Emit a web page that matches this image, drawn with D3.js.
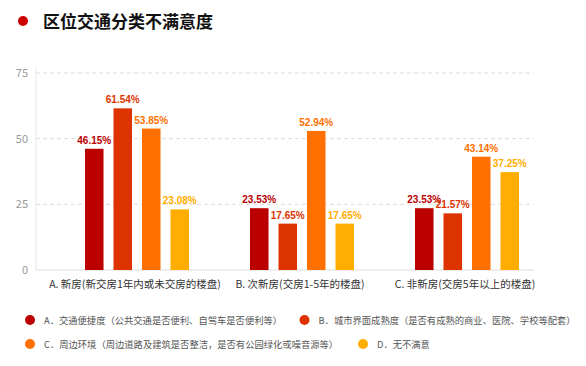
<!DOCTYPE html>
<html>
<head>
<meta charset="utf-8">
<script src="https://cdn.jsdelivr.net/npm/d3@7"></script>
<style>
  body { margin: 0; background: #fff; }
  svg { display: block; font-family: "Microsoft YaHei", "Noto Sans CJK SC", sans-serif; }
</style>
</head>
<body>
<svg width="586" height="366"></svg>
<script>
// Data
const categories = ['A. 新房(新交房1年内或未交房的楼盘)', 'B. 次新房(交房1-5年的楼盘)', 'C. 非新房(交房5年以上的楼盘)']
const seriesNames = [
  'A．交通便捷度（公共交通是否便利、自驾车是否便利等）',
  'B．城市界面成熟度（是否有成熟的商业、医院、学校等配套）',
  'C．周边环境（周边道路及建筑是否整洁，是否有公园绿化或噪音源等）',
  'D．无不满意'
]
const seriesA = [46.15, 23.53, 23.53]
const seriesB = [61.54, 17.65, 21.57]
const seriesC = [53.85, 52.94, 43.14]
const seriesD = [23.08, 17.65, 37.25]
const yTicks = [0, 25, 50, 75]
const colors = ['#bb0000', '#dd3300', '#ff7000', '#ffad00']

const series = [seriesA, seriesB, seriesC, seriesD]
const svg = d3.select('svg')

// Title
svg.append('circle').attr('cx', 23).attr('cy', 21).attr('r', 5).attr('fill', '#cc0000')
svg.append('text')
  .attr('x', 43).attr('y', 27.5)
  .attr('font-size', 17).attr('font-weight', 'bold').attr('fill', '#111')
  .text('区位交通分类不满意度')

// Scales
const plotLeft = 36, plotRight = 534
const y = d3.scaleLinear().domain([0, 75]).range([270, 73])
const x = d3.scaleBand().domain(categories).range([54.5, 549.5])
const xs = d3.scaleBand().domain(d3.range(4)).range([-52, 52]).paddingInner(0.35)

// Grid lines
svg.append('g')
  .selectAll('line')
  .data(yTicks.filter(d => d > 0))
  .join('line')
  .attr('x1', plotLeft).attr('x2', plotRight)
  .attr('y1', d => y(d)).attr('y2', d => y(d))
  .attr('stroke', '#dcdcdc').attr('stroke-dasharray', '4,3')

// Axis lines
svg.append('line').attr('x1', plotLeft).attr('x2', plotLeft).attr('y1', y(75) - 6).attr('y2', y(0))
  .attr('stroke', '#e6e6e6')
svg.append('line').attr('x1', plotLeft).attr('x2', plotRight).attr('y1', y(0)).attr('y2', y(0))
  .attr('stroke', '#dddddd')

// Y tick labels
svg.append('g')
  .selectAll('text')
  .data(yTicks)
  .join('text')
  .attr('x', 28).attr('y', d => y(d) + 4)
  .attr('text-anchor', 'end').attr('font-size', 11).attr('fill', '#999')
  .text(d => d)

// X labels
svg.append('g')
  .selectAll('text')
  .data(categories)
  .join('text')
  .attr('x', d => x(d) + x.bandwidth() / 2 - 2)
  .attr('y', 288)
  .attr('text-anchor', 'middle').attr('font-size', 10.5).attr('fill', '#333')
  .text(d => d)

// Bars and value labels
const barData = []
series.forEach((vals, si) => vals.forEach((v, ci) => barData.push({ si, cat: categories[ci], v })))

const bars = svg.append('g')
bars.selectAll('rect')
  .data(barData)
  .join('rect')
  .attr('x', d => x(d.cat) + x.bandwidth() / 2 + xs(d.si))
  .attr('y', d => y(d.v))
  .attr('width', xs.bandwidth())
  .attr('height', d => y(0) - y(d.v))
  .attr('fill', d => colors[d.si])

bars.selectAll('text')
  .data(barData)
  .join('text')
  .attr('x', d => x(d.cat) + x.bandwidth() / 2 + xs(d.si) + xs.bandwidth() / 2)
  .attr('y', d => y(d.v) - 5)
  .attr('text-anchor', 'middle')
  .attr('font-family', 'Arial, "Liberation Sans", sans-serif')
  .attr('font-size', 10).attr('font-weight', 'bold')
  .attr('fill', d => colors[d.si])
  .text(d => d.v.toFixed(2) + '%')

// Legend
const legendPos = [[30, 320], [304.5, 320], [30, 344], [363, 344]]
const legend = svg.append('g')
  .selectAll('g')
  .data(seriesNames)
  .join('g')
  .attr('transform', (d, i) => `translate(${legendPos[i][0]},${legendPos[i][1]})`)
legend.append('circle').attr('r', 5).attr('fill', (d, i) => colors[i])
legend.append('text')
  .attr('x', 14).attr('y', 3.5)
  .attr('font-size', 9.3).attr('fill', '#555')
  .text(d => d)
</script>
</body>
</html>
